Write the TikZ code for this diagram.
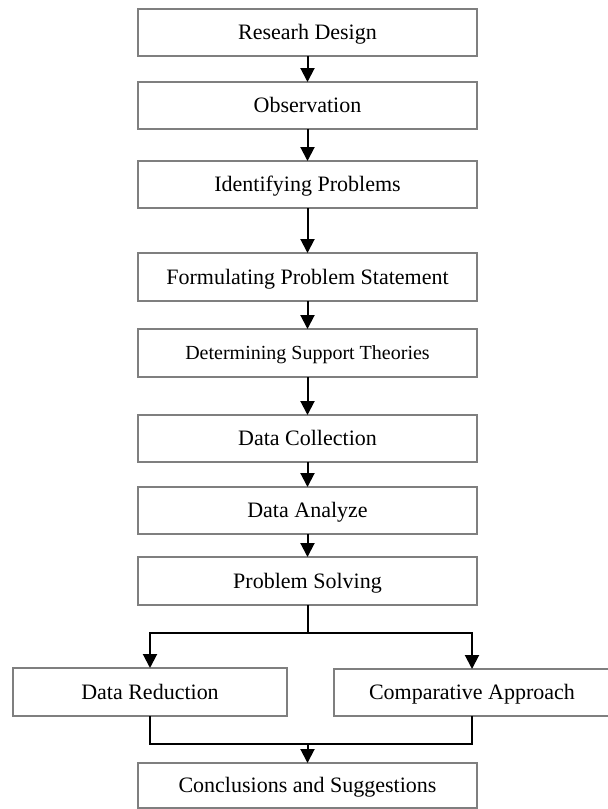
\documentclass[tikz,border=0pt]{standalone}
\usepackage{fontspec}
\setmainfont{Liberation Serif}
\usetikzlibrary{arrows.meta}
\definecolor{boxgray}{HTML}{7F7F7F}
\begin{document}
\begin{tikzpicture}[x=1pt,y=-1pt,
  box/.style={draw=boxgray, line width=1.2pt, inner sep=0pt, outer sep=0pt,
    font=\fontsize{22}{26}\selectfont, text height=14.5pt, text depth=0pt},
  mainbox/.style={box, minimum width=339pt},
  conn/.style={line width=2pt, -{Triangle[width=14pt,length=14pt]}},
  plainline/.style={line width=2pt}]
\fill[white] (0,0) rectangle (608,809);
\useasboundingbox (0,0) rectangle (608,809);
\node[mainbox, minimum height=47pt] (rd) at (307.5,32.5) {Researh Design};
\node[mainbox, minimum height=47pt] (ob) at (307.5,105.5) {Observation};
\node[mainbox, minimum height=47pt] (ip) at (307.5,184.5) {Identifying Problems};
\node[mainbox, minimum height=48pt] (fp) at (307.5,277) {Formulating Problem Statement};
\node[mainbox, minimum height=48pt, font=\fontsize{20}{24}\selectfont, text height=13.2pt] (ds) at (307.5,353) {Determining Support Theories};
\node[mainbox, minimum height=47pt] (dc) at (307.5,438.5) {Data Collection};
\node[mainbox, minimum height=47pt] (da) at (307.5,510.5) {Data Analyze};
\node[mainbox, minimum height=48pt] (ps) at (307.5,581) {Problem Solving};
\node[box, minimum width=274pt, minimum height=48pt] (dr) at (150,692) {Data Reduction};
\node[box, minimum width=276pt, minimum height=47pt] (ca) at (472,692.5) {Comparative Approach};
\node[mainbox, minimum height=45pt] (cs) at (307.5,785.5) {Conclusions and Suggestions};
\coordinate (split) at (0,633);
\coordinate (merge) at (0,744);
\draw[conn] (rd) -- (ob);
\draw[conn] (ob) -- (ip);
\draw[conn] (ip) -- (fp);
\draw[conn] (fp) -- (ds);
\draw[conn] (ds) -- (dc);
\draw[conn] (dc) -- (da);
\draw[conn] (da) -- (ps);
\draw[plainline] (ps.south) -- (ps.south |- split);
\draw[conn] (ps.south |- split) -| (dr.north);
\draw[conn] (ps.south |- split) -| (ca.north);
\draw[plainline] (dr.south) |- (ca.south |- merge) -- (ca.south);
\draw[conn] (cs.north |- merge) -- (cs.north);
\end{tikzpicture}
\end{document}
